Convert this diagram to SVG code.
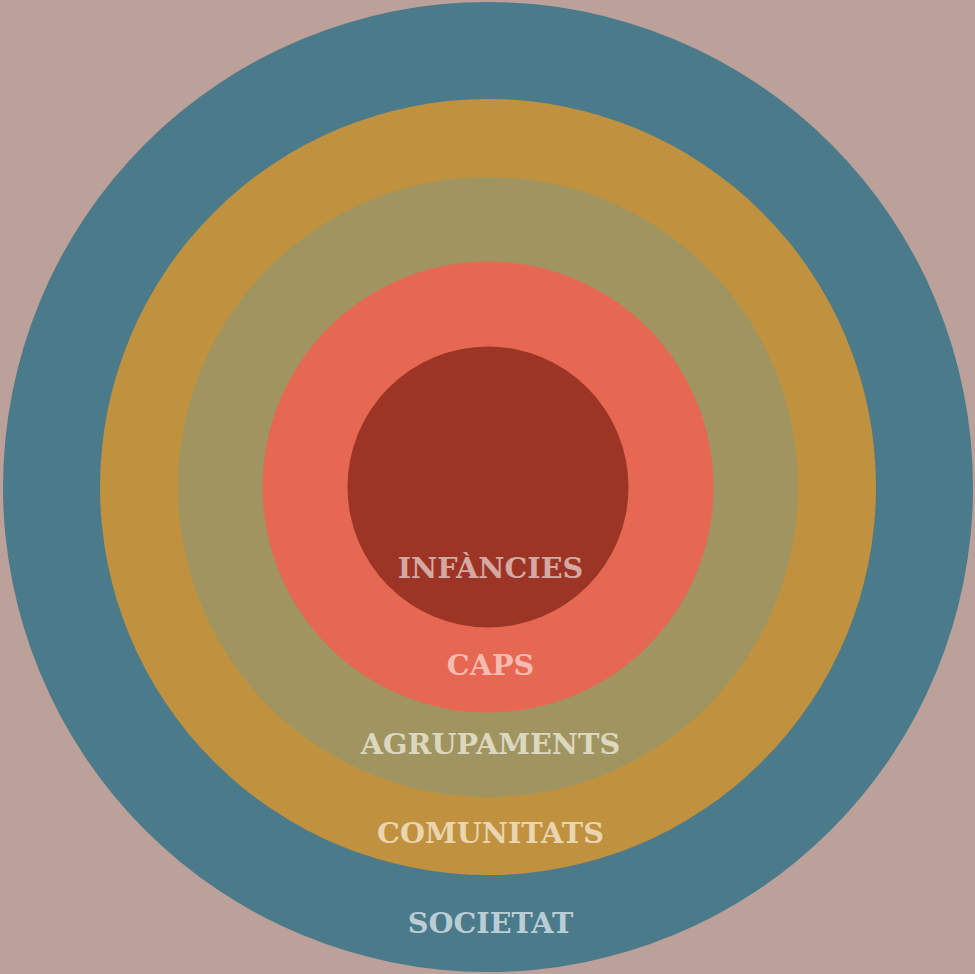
<svg xmlns="http://www.w3.org/2000/svg" width="975" height="974" viewBox="0 0 975 974">
<style>
text{font-family:"DejaVu Serif","Liberation Serif",serif;font-weight:bold;font-size:28.7px;text-anchor:middle}
</style>
<rect width="975" height="974" fill="#bca09a"/>
<g id="societat"><circle cx="488" cy="487" r="485" fill="#4b7a8b"/><text x="490.5" y="933" fill="#b9cdd5">SOCIETAT</text></g>
<g id="comunitats"><circle cx="488" cy="487" r="388" fill="#c0913f"/><text x="490.5" y="843" fill="#ead5af">COMUNITATS</text></g>
<g id="agrupaments"><circle cx="488" cy="487" r="310" fill="#a09560"/><text x="490.5" y="754" fill="#dcd8c0">AGRUPAMENTS</text></g>
<g id="caps"><circle cx="488" cy="487" r="225.5" fill="#e66852"/><text x="490.5" y="675" fill="#f5bbb0">CAPS</text></g>
<g id="infancies"><circle cx="488" cy="487" r="140.5" fill="#9c3526"/><text x="490.5" y="578" fill="#d6a8a2">INFÀNCIES</text></g>
<g id="connectors"/>
</svg>
